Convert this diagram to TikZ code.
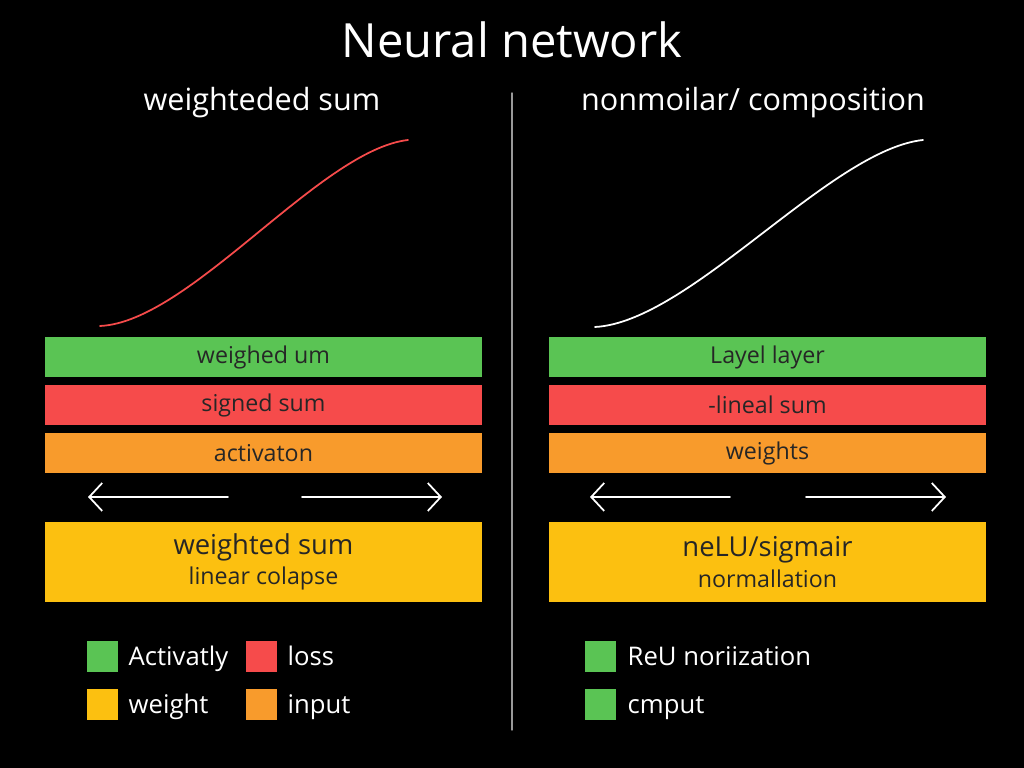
\documentclass[tikz,border=0pt]{standalone}
\usepackage{fontspec}
\setmainfont{Open Sans}
\usetikzlibrary{arrows.meta}
\definecolor{barGreen}{HTML}{5AC454}
\definecolor{barRed}{HTML}{F64B4B}
\definecolor{barOrange}{HTML}{F89B2C}
\definecolor{barYellow}{HTML}{FCC010}
\tikzset{
  bar/.style={minimum width=4.37cm, minimum height=0.4cm, inner sep=0pt, font=\fontsize{6.6}{7}\selectfont, text=black!85},
  bigbar/.style={bar, minimum height=0.8cm, align=center, font=\fontsize{6.6}{8.6}\selectfont},
  swatch/.style={minimum size=0.31cm, inner sep=0pt},
  legtext/.style={anchor=base west, text=white, inner sep=0pt, font=\fontsize{7.3}{8}\selectfont},
  subtitle/.style={text=white, font=\fontsize{8.7}{9}\selectfont}
}
\begin{document}
\begin{tikzpicture}[x=0.01cm, y=-0.01cm, >={Straight Barb[length=1.3mm,width=2.8mm]}, line join=round, line cap=round]
	\def\lx{263.5} \def\rx{767.5} % centres of the two columns
	\fill[black] (0,0) rectangle (1024,768);
	\useasboundingbox (0,0) rectangle (1024,768);
	\node[text=white, font=\fontsize{13.4}{15}\selectfont] (title) at (512,40) {Neural network};
	\node[subtitle] (subL) at (262,103) {weighteded sum};
	\node[subtitle] (subR) at (753,103) {nonmoilar/ composition};
	\draw[gray!80, thin] (512,93)--(512,730);
	% curves
	\draw[barRed, line width=0.5pt] (100,326) .. controls (190,322) and (320,150) .. (408,140);
	\draw[white, line width=0.5pt] (595,327) .. controls (690,322) and (830,150) .. (923,140);
	% left column
	\node[bar, fill=barGreen] (lgreen) at (\lx,357) {weighed um};
	\node[bar, fill=barRed] (lred) at (\lx,405) {signed sum};
	\node[bar, fill=barOrange] (lorange) at (\lx,453) {activaton};
	\node[bigbar, fill=barYellow] (lyellow) at (\lx,562) {{\fontsize{7.8}{10}\selectfont weighted sum}\\linear colapse};
	% right column
	\node[bar, fill=barGreen] (rgreen) at (\rx,357) {Layel layer};
	\node[bar, fill=barRed] (rred) at (\rx,405) {-lineal sum};
	\node[bar, fill=barOrange] (rorange) at (\rx,453) {weights};
	\node[bigbar, fill=barYellow] (ryellow) at (\rx,562) {{\fontsize{7.8}{10}\selectfont neLU/sigmair}\\normallation};
	% arrows
	\coordinate (la1) at (228,497); \coordinate (la2) at (88,497);
	\coordinate (lb1) at (302,497); \coordinate (lb2) at (442,497);
	\coordinate (ra1) at (730,497); \coordinate (ra2) at (590,497);
	\coordinate (rb1) at (806,497); \coordinate (rb2) at (946,497);
	\foreach \s/\e in {la1/la2, lb1/lb2, ra1/ra2, rb1/rb2}
		\draw[->, white, line width=0.5pt] (\s)--(\e);
	% legend
	\node[swatch, fill=barGreen] (keyA) at (102.5,656.5) {};
	\node[legtext] (txtA) at (128,666) {Activatly};
	\node[swatch, fill=barRed] (keyB) at (261.5,656.5) {};
	\node[legtext] (txtB) at (287,666) {loss};
	\node[swatch, fill=barYellow] (keyC) at (102.5,704.5) {};
	\node[legtext] (txtC) at (128,714) {weight};
	\node[swatch, fill=barOrange] (keyD) at (261.5,704.5) {};
	\node[legtext] (txtD) at (287,714) {input};
	\node[swatch, fill=barGreen] (keyE) at (600.5,656.5) {};
	\node[legtext] (txtE) at (627,666) {ReU noriization};
	\node[swatch, fill=barGreen] (keyF) at (600.5,704.5) {};
	\node[legtext] (txtF) at (627,714) {cmput};
\end{tikzpicture}
\end{document}
